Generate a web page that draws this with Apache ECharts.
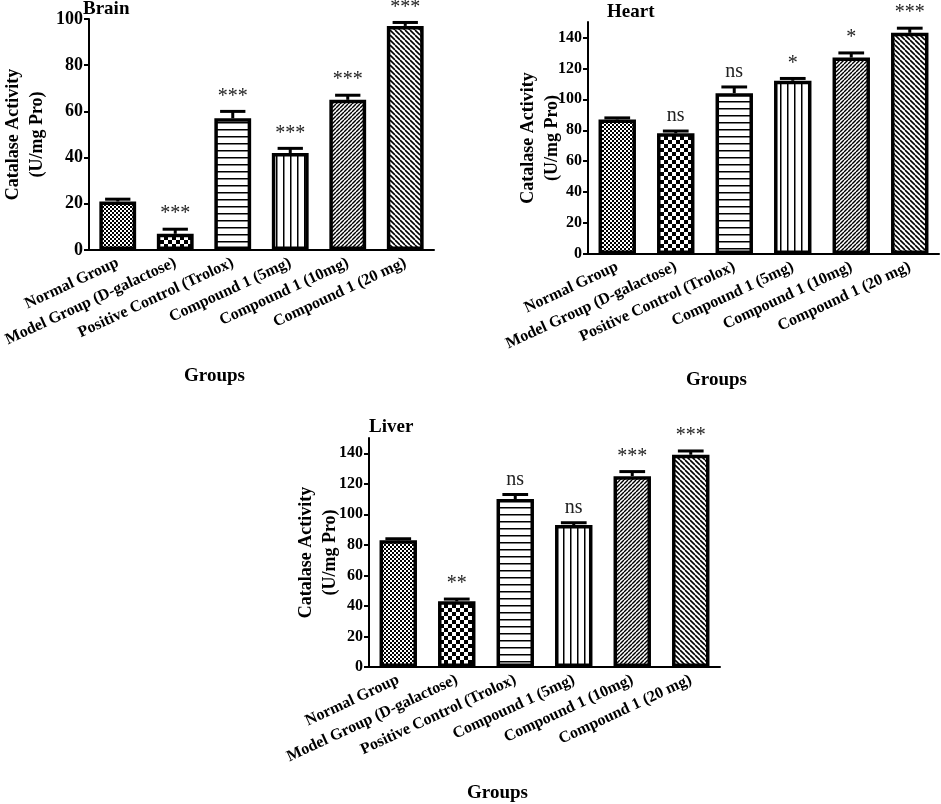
<!DOCTYPE html>
<html lang="en">
<head>
    <meta charset="UTF-8">
    <title>Catalase Activity</title>
    <script src="https://cdn.jsdelivr.net/npm/echarts@6/dist/echarts.min.js"></script>
    <style>
        html, body { margin: 0; padding: 0; background: #fff; }
        #chart { width: 941px; height: 804px; }
    </style>
</head>
<body>
<div id="chart"></div>
<script>
    // ---- data ----
    const groups = ['Normal Group', 'Model Group (D-galactose)', 'Positive Control (Trolox)',
        'Compound 1 (5mg)', 'Compound 1 (10mg)', 'Compound 1 (20 mg)'];

    const brainMean = [21, 7, 57, 42, 65, 97];
    const brainErr = [1, 2, 3, 2, 2, 1.5];
    const brainSig = ['', '***', '***', '***', '***', '***'];
    const brainTicks = [0, 20, 40, 60, 80, 100];

    const heartMean = [87, 78, 104, 112, 127, 143];
    const heartErr = [1, 1.5, 4, 1.5, 3, 3];
    const heartSig = ['', 'ns', 'ns', '*', '*', '***'];
    const heartTicks = [0, 20, 40, 60, 80, 100, 120, 140];

    const liverMean = [83, 43, 110, 93, 125, 139];
    const liverErr = [1, 1.5, 3, 1.5, 3, 2.5];
    const liverSig = ['', '**', 'ns', 'ns', '***', '***'];
    const liverTicks = [0, 20, 40, 60, 80, 100, 120, 140];

    const FONT = "'Liberation Serif', 'Times New Roman', serif";

    // ---- hatch patterns, one per group ----
    function tile(size, draw) {
        const c = document.createElement('canvas');
        c.width = size; c.height = size;
        const ctx = c.getContext('2d');
        ctx.fillStyle = '#fff';
        ctx.fillRect(0, 0, size, size);
        ctx.fillStyle = '#000';
        ctx.strokeStyle = '#000';
        draw(ctx, size);
        return { image: c, repeat: 'repeat' };
    }
    function diag(ctx, s, w, back) {
        ctx.lineWidth = w;
        for (let k = -1; k <= 1; k++) {
            ctx.beginPath();
            if (back) {
                ctx.moveTo(k * s, 0); ctx.lineTo(k * s + s, s);
            } else {
                ctx.moveTo(k * s, s); ctx.lineTo(k * s + s, 0);
            }
            ctx.stroke();
        }
    }
    const patterns = [
        tile(4, (ctx) => { ctx.fillRect(0, 0, 2, 2); ctx.fillRect(2, 2, 2, 2); }),
        tile(8, (ctx) => { ctx.fillRect(0, 0, 4, 4); ctx.fillRect(4, 4, 4, 4); }),
        tile(7, (ctx) => { ctx.fillRect(0, 3, 7, 1.5); }),
        tile(7, (ctx) => { ctx.fillRect(3, 0, 1.5, 7); }),
        tile(4, (ctx, s) => diag(ctx, s, 1.4, false)),
        tile(5, (ctx, s) => diag(ctx, s, 1.6, true))
    ];

    const panels = [
        { title: 'Brain', mean: brainMean, err: brainErr, sig: brainSig, ticks: brainTicks, max: 100,
            grid: { left: 84, top: 19, width: 350, height: 231 }, titlePos: { left: 83, top: 0 },
            tickSize: 18, nameGap: 40 },
        { title: 'Heart', mean: heartMean, err: heartErr, sig: heartSig, ticks: heartTicks, max: 150,
            grid: { left: 588, top: 22, width: 351, height: 232 }, titlePos: { left: 607, top: 3 },
            tickSize: 16, nameGap: 24 },
        { title: 'Liver', mean: liverMean, err: liverErr, sig: liverSig, ticks: liverTicks, max: 150,
            grid: { left: 369, top: 438, width: 351, height: 231 }, titlePos: { left: 369, top: 418 },
            tickSize: 16, nameGap: 27 }
    ];

    const option = {
        animation: false,
        backgroundColor: '#fff',
        title: [], grid: [], xAxis: [], yAxis: [], series: []
    };

    panels.forEach((p, i) => {
        option.title.push({
            text: p.title, left: p.titlePos.left, top: p.titlePos.top, padding: 0,
            textStyle: { fontFamily: FONT, fontWeight: 'bold', fontSize: 19, color: '#000' }
        });
        option.grid.push(Object.assign({ containLabel: false }, p.grid));
        option.xAxis.push({
            type: 'category', gridIndex: i, data: groups,
            axisLine: { lineStyle: { color: '#000', width: 2 } },
            axisTick: { alignWithLabel: true, length: 5, lineStyle: { color: '#000', width: 2 } },
            axisLabel: {
                interval: 0, rotate: 25, margin: 12, color: '#000',
                fontFamily: FONT, fontWeight: 'bold', fontSize: 16
            },
            name: 'Groups', nameLocation: 'middle', nameGap: 117,
            nameTextStyle: {
                fontFamily: FONT, fontWeight: 'bold', fontSize: 19, color: '#000',
                padding: [0, 94, 0, 0]
            }
        });
        option.yAxis.push({
            type: 'value', gridIndex: i, min: 0, max: p.max, interval: 20,
            splitLine: { show: false },
            axisLine: { show: true, lineStyle: { color: '#000', width: 2 } },
            axisTick: { show: true, length: 5, customValues: p.ticks, lineStyle: { color: '#000', width: 2 } },
            axisLabel: {
                customValues: p.ticks, margin: 6, color: '#000',
                fontFamily: FONT, fontWeight: 'bold', fontSize: p.tickSize
            },
            name: 'Catalase Activity\n(U/mg Pro)', nameLocation: 'middle', nameGap: p.nameGap,
            nameMoveOverlap: false,
            nameTextStyle: {
                fontFamily: FONT, fontWeight: 'bold', fontSize: 18, lineHeight: 24, color: '#000'
            }
        });
        option.series.push({
            type: 'bar', xAxisIndex: i, yAxisIndex: i, barWidth: '64%',
            data: p.mean.map((v, k) => ({
                value: v,
                itemStyle: { color: patterns[k], borderColor: '#000', borderWidth: 3.5 }
            }))
        });
        option.series.push({
            type: 'custom', xAxisIndex: i, yAxisIndex: i, z: 5,
            data: p.mean.map((v, k) => [k, v, p.err[k]]),
            renderItem: function (params, api) {
                const x = api.value(0), m = api.value(1), e = api.value(2);
                const base = api.coord([x, m]);
                const top = api.coord([x, m + e]);
                const half = api.size([1, 0])[0] * 0.22;
                const sig = p.sig[params.dataIndex];
                return {
                    type: 'group',
                    children: [
                        { type: 'line', shape: { x1: base[0], y1: base[1], x2: top[0], y2: top[1] },
                            style: { stroke: '#000', lineWidth: 3 } },
                        { type: 'line', shape: { x1: top[0] - half, y1: top[1], x2: top[0] + half, y2: top[1] },
                            style: { stroke: '#000', lineWidth: 3 } },
                        { type: 'text', style: {
                            text: sig, x: top[0], y: top[1] - 5,
                            textAlign: 'center', textVerticalAlign: 'bottom',
                            font: '20px ' + FONT, fill: '#222'
                        } }
                    ]
                };
            }
        });
    });

    const chart = echarts.init(document.getElementById('chart'));
    chart.setOption(option);
</script>
</body>
</html>
